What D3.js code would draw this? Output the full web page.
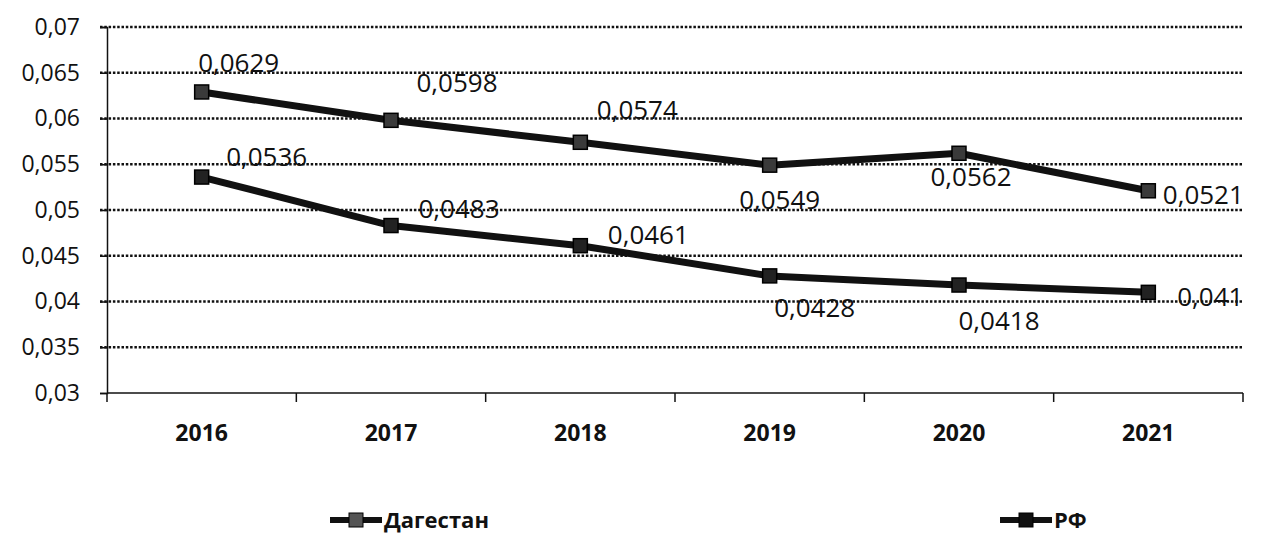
<!DOCTYPE html>
<meta charset="utf-8">
<style>
  body { margin: 0; background: #fff; }
  text { font-family: "Open Sans", sans-serif; fill: #111; }
</style>
<body>
<script src="https://d3js.org/d3.v7.min.js"></script>
<script>
// data
var years = ["2016", "2017", "2018", "2019", "2020", "2021"];
var dagestan = [0.0629, 0.0598, 0.0574, 0.0549, 0.0562, 0.0521];
var rf = [0.0536, 0.0483, 0.0461, 0.0428, 0.0418, 0.041];
var yTicks = [0.03, 0.035, 0.04, 0.045, 0.05, 0.055, 0.06, 0.065, 0.07];

// label offsets (label centre relative to the point)
var dagOff = [[37, -29], [66, -37], [57, -32], [10, 35], [12, 24], [55, 4]];
var rfOff = [[65, -20], [68, -17], [68, -11], [45, 32], [40, 36], [62, 5]];

var W = 1262, H = 540;
var plot = {left: 107, right: 1243, top: 27, bottom: 393};

var svg = d3.select("body").append("svg")
    .attr("width", W).attr("height", H);

var x = d3.scaleBand().domain(years).range([plot.left, plot.right]);
var y = d3.scaleLinear().domain([0.03, 0.07]).range([plot.bottom, plot.top]);

var fmt = function(v) { return String(v).replace(".", ","); };

// dotted gridlines
svg.selectAll(".grid")
    .data(yTicks.slice(1))
    .enter().append("line")
    .attr("x1", plot.left - 7).attr("x2", plot.right)
    .attr("y1", function(d) { return y(d); })
    .attr("y2", function(d) { return y(d); })
    .attr("stroke", "#111")
    .attr("stroke-width", 2.5)
    .attr("stroke-dasharray", "2.5,1.8");

// y axis
var yAxis = svg.append("g")
    .attr("transform", "translate(" + plot.left + ",0)")
    .call(d3.axisLeft(y).tickValues(yTicks).tickSize(7).tickFormat(fmt));
yAxis.select(".domain").attr("stroke", "#111").attr("stroke-width", 1.5);
yAxis.selectAll(".tick line").attr("stroke", "#111").attr("stroke-width", 1.5);
yAxis.selectAll("text")
    .attr("x", -27)
    .style("font-family", "Open Sans")
    .style("font-size", "23px")
    .attr("fill", "#111");

// x axis with ticks at category borders
var xAxis = svg.append("g")
    .attr("transform", "translate(0," + plot.bottom + ")");
xAxis.append("line")
    .attr("x1", plot.left).attr("x2", plot.right)
    .attr("stroke", "#111").attr("stroke-width", 1.5);
var borders = years.map(function(d) { return x(d); }).concat([plot.right]);
xAxis.selectAll(".xt")
    .data(borders)
    .enter().append("line")
    .attr("x1", function(d) { return d; }).attr("x2", function(d) { return d; })
    .attr("y1", 0).attr("y2", 9)
    .attr("stroke", "#111").attr("stroke-width", 1.5);
xAxis.selectAll(".xl")
    .data(years)
    .enter().append("text")
    .attr("x", function(d) { return x(d) + x.bandwidth() / 2; })
    .attr("y", 48)
    .attr("text-anchor", "middle")
    .style("font-size", "23px")
    .style("font-weight", "bold")
    .text(function(d) { return d; });

var line = d3.line()
    .x(function(d, i) { return x(years[i]) + x.bandwidth() / 2; })
    .y(function(d) { return y(d); });

function drawSeries(vals, offs, markFill) {
    svg.append("path")
        .datum(vals)
        .attr("fill", "none")
        .attr("stroke", "#111")
        .attr("stroke-width", 7)
        .attr("stroke-linejoin", "round")
        .attr("d", line);

    svg.selectAll(null)
        .data(vals)
        .enter().append("rect")
        .attr("x", function(d, i) { return x(years[i]) + x.bandwidth() / 2 - 7; })
        .attr("y", function(d) { return y(d) - 7; })
        .attr("width", 14).attr("height", 14)
        .attr("fill", markFill)
        .attr("stroke", "#000").attr("stroke-width", 1.5);

    svg.selectAll(null)
        .data(vals)
        .enter().append("text")
        .attr("x", function(d, i) { return x(years[i]) + x.bandwidth() / 2 + offs[i][0]; })
        .attr("y", function(d, i) { return y(d) + offs[i][1]; })
        .attr("dy", "0.35em")
        .attr("text-anchor", "middle")
        .style("font-size", "26px")
        .text(fmt);
}

drawSeries(dagestan, dagOff, "#3a3a3a");
drawSeries(rf, rfOff, "#222");

// legend
var legend = [
    {name: "Дагестан", x: 330, fill: "#555"},
    {name: "РФ", x: 1000, fill: "#111"}
];
var lg = svg.selectAll(".lg").data(legend).enter().append("g")
    .attr("transform", function(d) { return "translate(" + d.x + ",520)"; });
lg.append("line")
    .attr("x1", 0).attr("x2", 52)
    .attr("stroke", "#111").attr("stroke-width", 6);
lg.append("rect")
    .attr("x", 19).attr("y", -7).attr("width", 14).attr("height", 14)
    .attr("fill", function(d) { return d.fill; })
    .attr("stroke", "#000");
lg.append("text")
    .attr("x", 54).attr("dy", "0.35em")
    .style("font-size", "22px")
    .style("font-weight", "bold")
    .text(function(d) { return d.name; });
</script>
</body>
</html>
